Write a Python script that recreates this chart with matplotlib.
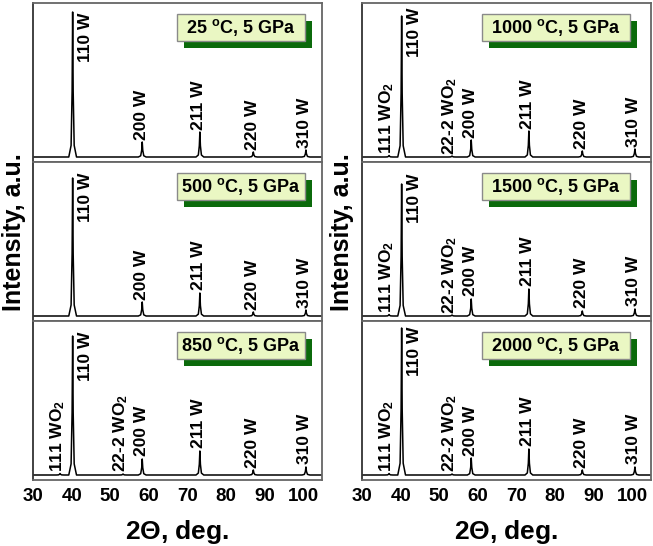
import matplotlib
matplotlib.use("Agg")
import matplotlib.pyplot as plt
from matplotlib.patches import Rectangle

plt.rcParams['font.family'] = ['Liberation Sans', 'DejaVu Sans']
plt.rcParams['font.weight'] = 'bold'
plt.rcParams['axes.labelweight'] = 'bold'
plt.rcParams['mathtext.fontset'] = 'custom'
plt.rcParams['mathtext.rm'] = 'Liberation Sans'
plt.rcParams['mathtext.bf'] = 'Liberation Sans:bold'
plt.rcParams['mathtext.it'] = 'Liberation Sans:italic'

# peak positions, 2Theta deg
w_pos = [40.26, 58.27, 73.19, 87.02, 100.64]
w_lab = ['110 W', '200 W', '211 W', '220 W', '310 W']
wo2_pos = [37.0, 53.3]
wo2_lab = [r'111 WO$_\mathbf{2}$', r'22-2 WO$_\mathbf{2}$']

# panel titles, column by column
titles = ['25', '500', '850', '1000', '1500', '2000']

# relative peak heights (a.u.)
h_25 = [145, 15, 25, 5, 7]
h_500 = [138, 14, 23, 4, 6]
h_850 = [139, 16, 24, 5, 8]
h_1000 = [141, 17, 26, 6, 8]
h_1500 = [132, 17, 27, 5, 7]
h_2000 = [147, 17, 26, 5, 8]
w_heights = [h_25, h_500, h_850, h_1000, h_1500, h_2000]

wo2_25 = [0, 0]
wo2_500 = [0, 0]
wo2_850 = [1.5, 1.0]
wo2_1000 = [1.5, 1.0]
wo2_1500 = [1.5, 1.0]
wo2_2000 = [1.5, 1.0]
wo2_heights = [wo2_25, wo2_500, wo2_850, wo2_1000, wo2_1500, wo2_2000]

# top of the "110 W" label in each panel
lab110_top = [144, 143, 143, 149, 142, 148]

X0, X1 = 30, 104.8
# peak outline (offset in deg, fraction of height)
shape_dx = [-1.0, -0.4, -0.14, 0.0, 0.14, 0.4, 1.0]
shape_f = [0.0, 0.08, 0.45, 1.0, 0.45, 0.08, 0.0]


def pattern(pos, hts):
    peaks = sorted(zip(pos, hts))
    xs, ys = [X0], [0]
    for p, h in peaks:
        for dx, f in zip(shape_dx, shape_f):
            xs.append(p + dx)
            ys.append(h * f)
    xs.append(X1)
    ys.append(0)
    return xs, ys


fig = plt.figure(figsize=(6.53, 5.46), dpi=100)
W, H = 653, 546
col_x = [33, 362]
ax_w = 289
row_top = [3, 162, 321]
ax_h = 159

spine_c = '#666666'
for i in range(6):
    col, row = divmod(i, 3)
    left = col_x[col] / W
    bottom = 1 - (row_top[row] + ax_h) / H
    ax = fig.add_axes([left, bottom, ax_w / W, ax_h / H])
    xs, ys = pattern(w_pos + wo2_pos, w_heights[i] + wo2_heights[i])
    ax.plot(xs, ys, color='black', lw=1.1)
    ax.set_xlim(X0, X1)
    ax.set_ylim(-5, 154)
    ax.set_yticks([])
    for s in ax.spines.values():
        s.set_color(spine_c)
        s.set_linewidth(1.3)
    ax.spines['left'].set_color('#333333')
    if row == 2:
        ax.set_xticks([30, 40, 50, 60, 70, 80, 90, 100])
        ax.tick_params(axis='x', length=0, pad=6, labelsize=13.5)
        ax.set_xlabel(r'2$\mathrm{\Theta}$, deg.', fontsize=19, fontweight='bold', labelpad=9)
    else:
        ax.set_xticks([])

    # peak labels
    hts = w_heights[i]
    fs = 12.5
    ax.text(w_pos[0] + 3.4, lab110_top[i], w_lab[0], rotation=90, ha='center', va='top', fontsize=fs)
    for p, h, lab in zip(w_pos[1:], hts[1:], w_lab[1:]):
        ax.text(p - 0.3, h + 2.5, lab, rotation=90, ha='center', va='bottom', fontsize=fs)
    if wo2_heights[i][0] > 0:
        for p, h, lab in zip(wo2_pos, wo2_heights[i], wo2_lab):
            ax.text(p - 0.6, h + 1.5, lab, rotation=90, ha='center', va='bottom', fontsize=fs)

    # title box with shadow
    if col == 0:
        bx0, bx1 = (177 - 33) / ax_w, (305 - 33) / ax_w
    else:
        bx0, bx1 = (482 - 362) / ax_w, (630 - 362) / ax_w
    by1 = 1 - 11 / ax_h
    by0 = 1 - 38 / ax_h
    dx, dy = 7 / ax_w, 7 / ax_h
    ax.add_patch(Rectangle((bx0 + dx, by0 - dy), bx1 - bx0, by1 - by0,
                           transform=ax.transAxes, facecolor='#0b6a0b',
                           edgecolor='none', zorder=5))
    ax.add_patch(Rectangle((bx0, by0), bx1 - bx0, by1 - by0,
                           transform=ax.transAxes, facecolor='#eaf7c3',
                           edgecolor='#8a8a8a', lw=1.0, zorder=6))
    ax.text((bx0 + bx1) / 2, (by0 + by1) / 2, titles[i] + r' $^{\mathrm{o}}$C, 5 GPa',
            transform=ax.transAxes, ha='center', va='center', fontsize=13, zorder=7)

fig.text(14 / W, 1 - 232 / H, 'Intensity, a.u.', rotation=90, ha='center', va='center', fontsize=18)
fig.text(342 / W, 1 - 232 / H, 'Intensity, a.u.', rotation=90, ha='center', va='center', fontsize=18)

fig.savefig('out.png', dpi=100)
